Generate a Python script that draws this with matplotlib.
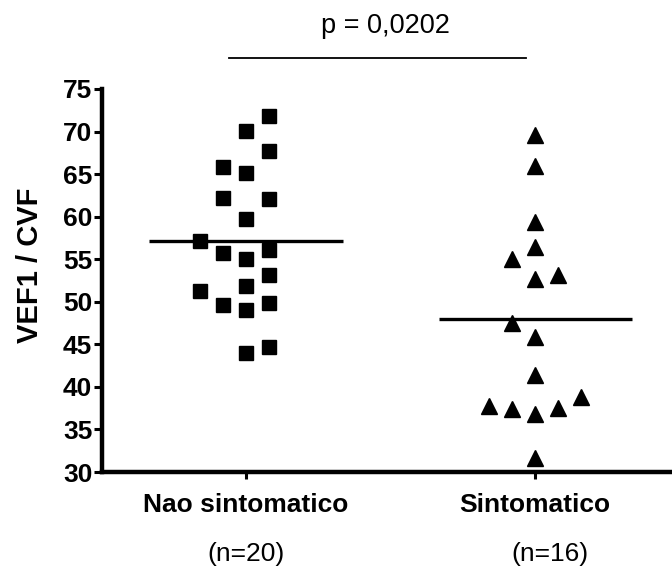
import numpy as np
import matplotlib
matplotlib.use("Agg")
import matplotlib.pyplot as plt

plt.rcParams['font.family'] = ['Liberation Sans', 'DejaVu Sans']

# groups and sample sizes
groups = ["Nao sintomatico", "Sintomatico"]
n_labels = ["(n=20)", "(n=16)"]

# VEF1/CVF values per group
vef_nao = [71.8, 70.1, 67.7, 65.8, 65.1, 62.2, 62.1, 59.7, 57.1, 55.7,
           55.0, 56.1, 53.1, 51.9, 51.3, 49.6, 49.0, 49.8, 44.0, 44.7]
vef_sint = [69.6, 65.9, 59.4, 56.4, 55.0, 52.7, 53.2, 47.5, 45.9, 41.4,
            37.7, 37.4, 36.8, 37.5, 38.8, 31.6]

# column slot of each point in the dot plot (spread sideways when values collide)
slot_nao = [1, 0, 1, -1, 0, -1, 1, 0, -2, -1,
            0, 1, 1, 0, -2, -1, 0, 1, 0, 1]
slot_sint = [0, 0, 0, 0, -1, 0, 1, -1, 0, 0,
             -2, -1, 0, 1, 2, 0]

p_text = "p = 0,0202"

slot_w = 0.0796
fig = plt.figure(figsize=(6.72, 5.69), dpi=100)
ax = fig.add_axes([102 / 672, 1 - 472 / 569, 580 / 672, 383 / 569])

x1 = 1 + np.array(slot_nao) * slot_w
x2 = 2 + np.array(slot_sint) * slot_w
ax.plot(x1, vef_nao, linestyle='none', marker='s', ms=10.5, color='black', clip_on=False)
ax.plot(x2, vef_sint, linestyle='none', marker='^', ms=11.5, color='black', clip_on=False)

# group means
for xc, vals in [(1, vef_nao), (2, vef_sint)]:
    m = np.mean(vals)
    ax.plot([xc - 0.334, xc + 0.334], [m, m], color='black', lw=2.4, solid_capstyle='butt')

ax.set_xlim(0.5017, 2.508)
ax.set_ylim(30, 75)
ax.set_yticks(np.arange(30, 76, 5))
ax.set_xticks([1, 2])
ax.set_xticklabels(groups, fontsize=19, fontweight='bold')
for lab in ax.get_yticklabels():
    lab.set_fontweight('bold')
ax.tick_params(axis='y', labelsize=19, length=6, width=2.2, pad=1)
ax.tick_params(axis='x', length=5, width=2.2, pad=10)
ax.set_ylabel("VEF1 / CVF", fontsize=21, fontweight='bold')
ax.yaxis.set_label_coords(-0.1, 0.54)

for s in ['top', 'right']:
    ax.spines[s].set_visible(False)
for s in ['left', 'bottom']:
    ax.spines[s].set_linewidth(3.2)

# sample sizes under the group names
for xc, lab in zip([1.0, 2.05], n_labels):
    ax.text(xc, 20.4, lab, ha='center', va='center', fontsize=19)

# significance bar
ax.plot([0.941, 1.969], [78.7, 78.7], color='black', lw=1.3, clip_on=False)
ax.text(1.481, 82.4, p_text, ha='center', va='center', fontsize=19.5)

fig.savefig("out.png", dpi=100)
